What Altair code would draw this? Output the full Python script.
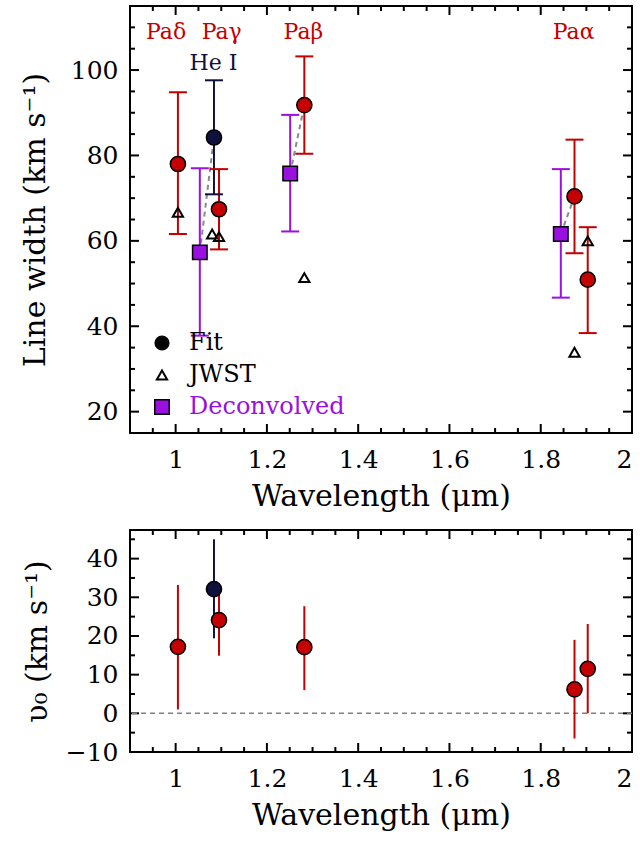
import altair as alt
import pandas as pd
import numpy as np

# ---------------- data ----------------
line_names = ["Paδ", "He I", "Paγ", "Paβ", "Paα", "1.90"]
line_group = ["H", "He", "H", "H", "H", "H"]
fit_wl = [1.005, 1.084, 1.095, 1.282, 1.874, 1.903]
fit_width = [78.0, 84.2, 67.4, 91.8, 70.4, 50.9]
fit_width_lo = [61.6, 70.9, 58.0, 80.4, 57.1, 38.4]
fit_width_hi = [94.8, 97.6, 76.8, 103.2, 83.7, 63.2]

jwst_wl = [1.005, 1.080, 1.095, 1.282, 1.874, 1.903]
jwst_width = [66.7, 61.6, 61.0, 51.4, 33.9, 60.0]

deconv_line = ["He I", "Paβ", "Paα"]
deconv_wl = [1.053, 1.251, 1.844]
deconv_width = [57.3, 75.8, 61.6]
deconv_lo = [37.8, 62.2, 46.7]
deconv_hi = [77.0, 89.5, 76.8]

v0 = [17.2, 32.1, 24.1, 17.1, 6.2, 11.5]
v0_lo = [1.0, 19.4, 14.9, 6.0, -6.5, 0.0]
v0_hi = [33.2, 45.0, 33.2, 27.7, 19.0, 23.1]

label_text = ["Paδ", "Paγ", "Paβ", "Paα"]
label_wl = [0.979, 1.101, 1.280, 1.872]
he_label_text = ["He I"]
he_label_wl = [1.083]

x_major = [1.0, 1.2, 1.4, 1.6, 1.8, 2.0]
y_top_major = [20, 40, 60, 80, 100]
y_bot_major = [-10, 0, 10, 20, 30, 40]

# ---------------- style ----------------
RED = "#c40000"
NAVY = "#10103e"
PURPLE = "#9a10e0"
FONT = "DejaVu Serif"
W = 502
H_TOP = 427
H_BOT = 222
MAJ = 9
MIN = 5

x_minor = [round(v, 2) for v in np.arange(0.9, 2.001, 0.05) if min(abs(v - m) for m in x_major) > 1e-6]
y_top_minor = [v for v in range(15, 116, 5) if v not in y_top_major]
y_bot_minor = [v for v in range(-10, 48, 5) if v not in y_bot_major]

xscale = alt.Scale(domain=[0.9, 2.0], nice=False, zero=False)
yscale_top = alt.Scale(domain=[15, 115], nice=False, zero=False)
yscale_bot = alt.Scale(domain=[-10, 47.4], nice=False, zero=False)
grp_scale = alt.Scale(domain=["H", "He"], range=[RED, NAVY])

x_axis = alt.Axis(values=x_major, format="~g", title="Wavelength (μm)", labelPadding=14,
                  titlePadding=9)
ytop_axis = alt.Axis(values=y_top_major, title="Line width (km s⁻¹)", labelPadding=12,
                     titleX=-86, titleBaseline="alphabetic")
ybot_axis = alt.Axis(values=y_bot_major, title="υ₀ (km s⁻¹)", labelPadding=12,
                     titleX=-84, titleBaseline="alphabetic")


def X(f):
    return alt.X(f, scale=xscale, axis=x_axis)


def YT(f):
    return alt.Y(f, scale=yscale_top, axis=ytop_axis)


def YB(f):
    return alt.Y(f, scale=yscale_bot, axis=ybot_axis)


fit_df = pd.DataFrame({"name": line_names, "group": line_group, "wl": fit_wl,
                       "w": fit_width, "lo": fit_width_lo, "hi": fit_width_hi,
                       "v0": v0, "vlo": v0_lo, "vhi": v0_hi})
jwst_df = pd.DataFrame({"wl": jwst_wl, "w": jwst_width})
dec_df = pd.DataFrame({"name": deconv_line, "wl": deconv_wl, "w": deconv_width,
                       "lo": deconv_lo, "hi": deconv_hi})
conn_df = dec_df.merge(fit_df[["name", "wl", "w"]], on="name", suffixes=("", "_fit"))


def tick_layers(yvals_major, yvals_minor, Yf, H):
    layers = []
    for vals, ln in ((yvals_major, MAJ), (yvals_minor, MIN)):
        d = pd.DataFrame({"v": vals})
        layers.append(alt.Chart(d).mark_rule(color="black", strokeWidth=2, opacity=1).encode(
            y=Yf("v:Q"), x=alt.value(0), x2=alt.value(ln)))
        layers.append(alt.Chart(d).mark_rule(color="black", strokeWidth=2, opacity=1).encode(
            y=Yf("v:Q"), x=alt.value(W - ln), x2=alt.value(W)))
    for vals, ln in ((x_major, MAJ), (x_minor, MIN)):
        d = pd.DataFrame({"v": vals})
        layers.append(alt.Chart(d).mark_rule(color="black", strokeWidth=2, opacity=1).encode(
            x=X("v:Q"), y=alt.value(H - ln), y2=alt.value(H)))
        layers.append(alt.Chart(d).mark_rule(color="black", strokeWidth=2, opacity=1).encode(
            x=X("v:Q"), y=alt.value(0), y2=alt.value(ln)))
    return layers


# ---------------- top panel ----------------
base = alt.Chart(fit_df)

connectors = alt.Chart(conn_df).mark_rule(color="#8a8a8a", strokeWidth=2, strokeDash=[5, 4],
                                          opacity=1).encode(
    x=X("wl:Q"), y=YT("w:Q"), x2="wl_fit:Q", y2="w_fit:Q")

fit_err = base.mark_rule(strokeWidth=2, opacity=1).encode(
    x=X("wl:Q"), y=YT("lo:Q"), y2="hi:Q",
    color=alt.Color("group:N", scale=grp_scale, legend=None))
fit_caps = base.transform_fold(["lo", "hi"], as_=["k", "end"]).mark_tick(
    orient="horizontal", size=18, thickness=2, opacity=1).encode(
    x=X("wl:Q"), y=YT("end:Q"),
    color=alt.Color("group:N", scale=grp_scale, legend=None))

dec_err = alt.Chart(dec_df).mark_rule(strokeWidth=2, color=PURPLE, opacity=1).encode(
    x=X("wl:Q"), y=YT("lo:Q"), y2="hi:Q")
dec_caps = alt.Chart(dec_df).transform_fold(["lo", "hi"], as_=["k", "end"]).mark_tick(
    orient="horizontal", size=18, thickness=2, color=PURPLE, opacity=1).encode(
    x=X("wl:Q"), y=YT("end:Q"))

jwst_pts = alt.Chart(jwst_df).mark_point(shape="triangle-up", filled=False, stroke="black",
                                         strokeWidth=2, size=105, opacity=1).encode(
    x=X("wl:Q"), y=YT("w:Q"))

dec_pts = alt.Chart(dec_df).mark_square(size=210, color=PURPLE, stroke="black", strokeWidth=1.5,
                                        opacity=1).encode(
    x=X("wl:Q"), y=YT("w:Q"))

fit_pts = base.mark_circle(size=230, stroke="black", strokeWidth=1.5, opacity=1).encode(
    x=X("wl:Q"), y=YT("w:Q"),
    fill=alt.Fill("group:N", scale=grp_scale, legend=None))

pa_labels = alt.Chart(pd.DataFrame({"t": label_text, "wl": label_wl})).mark_text(
    font=FONT, fontSize=22, color=RED, baseline="alphabetic", align="center").encode(
    x=X("wl:Q"), y=alt.value(33), text="t:N")
he_labels = alt.Chart(pd.DataFrame({"t": he_label_text, "wl": he_label_wl})).mark_text(
    font=FONT, fontSize=22, color=NAVY, baseline="alphabetic", align="center").encode(
    x=X("wl:Q"), y=alt.value(64), text="t:N")

# manual legend
one = pd.DataFrame({"a": [0]})
leg_c = alt.Chart(one).mark_circle(size=230, color="black", opacity=1).encode(
    x=alt.value(32), y=alt.value(337))
leg_t = alt.Chart(one).mark_point(shape="triangle-up", filled=False, stroke="black",
                                  strokeWidth=2, size=105, opacity=1).encode(
    x=alt.value(32), y=alt.value(369))
leg_s = alt.Chart(one).mark_square(size=210, color=PURPLE, stroke="black", strokeWidth=1.5,
                                   opacity=1).encode(x=alt.value(32), y=alt.value(401))
leg_fit = alt.Chart(one).mark_text(font=FONT, fontSize=24, color="black", align="left",
                                   baseline="middle", text="Fit").encode(
    x=alt.value(59), y=alt.value(337))
leg_jwst = alt.Chart(one).mark_text(font=FONT, fontSize=24, color="black", align="left",
                                    baseline="middle", text="JWST").encode(
    x=alt.value(59), y=alt.value(369))
leg_dec = alt.Chart(one).mark_text(font=FONT, fontSize=24, color=PURPLE, align="left",
                                   baseline="middle", text="Deconvolved").encode(
    x=alt.value(59), y=alt.value(401))

top = alt.layer(
    *tick_layers(y_top_major, y_top_minor, YT, H_TOP),
    connectors, fit_err, fit_caps, dec_err, dec_caps, jwst_pts, dec_pts, fit_pts,
    pa_labels, he_labels, leg_c, leg_t, leg_s, leg_fit, leg_jwst, leg_dec
).properties(width=W, height=H_TOP)

# ---------------- bottom panel ----------------
zero_line = alt.Chart(one).mark_rule(color="#808080", strokeWidth=1.5, strokeDash=[5, 4],
                                     opacity=1).encode(
    y=alt.datum(0, scale=yscale_bot, axis=ybot_axis))
v_err = base.mark_rule(strokeWidth=2, opacity=1).encode(
    x=X("wl:Q"), y=YB("vlo:Q"), y2="vhi:Q",
    color=alt.Color("group:N", scale=grp_scale, legend=None))
v_pts = base.mark_circle(size=230, stroke="black", strokeWidth=1.5, opacity=1).encode(
    x=X("wl:Q"), y=YB("v0:Q"),
    fill=alt.Fill("group:N", scale=grp_scale, legend=None))

bottom = alt.layer(
    *tick_layers(y_bot_major, y_bot_minor, YB, H_BOT),
    zero_line, v_err, v_pts
).properties(width=W, height=H_BOT)

chart = alt.vconcat(top, bottom, spacing=16).properties(
    padding={"left": 18, "top": 4, "right": 5, "bottom": 5}
).configure(background="white").configure_view(stroke="black", strokeWidth=2).configure_axis(
    domain=False, ticks=False, grid=False,
    labelFont=FONT, labelFontSize=25, labelColor="black",
    titleFont=FONT, titleFontSize=30, titleFontWeight="normal", titleColor="black"
)

chart.save("out.html", embed_options={"renderer": "svg", "actions": False})
